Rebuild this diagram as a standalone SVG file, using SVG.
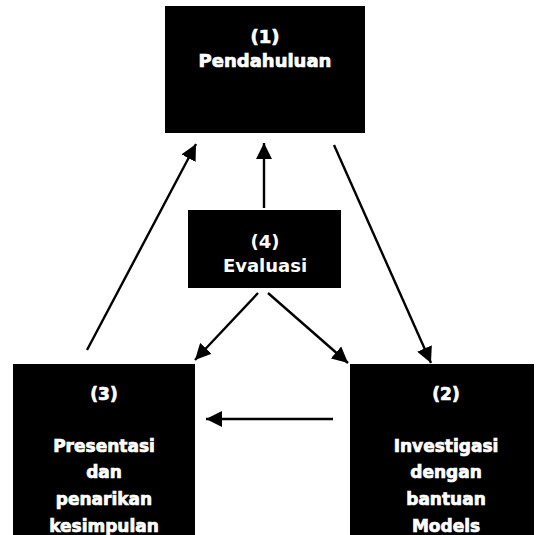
<svg xmlns="http://www.w3.org/2000/svg" width="540" height="535" viewBox="0 0 540 535">
  <defs>
    <marker id="head" markerUnits="userSpaceOnUse" markerWidth="16" markerHeight="16" refX="16" refY="8" orient="auto">
      <path d="M0,0 L16,8 L0,16 z" fill="#000"/>
    </marker>
    <style>
      .box { fill: #000; }
      .t { fill: #fff; stroke: #fff; stroke-width: 0.7; font-family: "DejaVu Sans", "Liberation Sans", sans-serif; font-weight: bold; font-size: 17px; text-anchor: middle; }
      .big { font-size: 18px; }
      .t4 { fill: #fff; font-family: "DejaVu Sans", "Liberation Sans", sans-serif; font-weight: bold; font-size: 18px; text-anchor: middle; }
      .link { stroke: #000; stroke-width: 2.4; fill: none; marker-end: url(#head); }
    </style>
  </defs>
  <rect width="540" height="535" fill="#fff"/>

  <g id="node1">
    <rect class="box" x="165" y="6" width="200" height="127"/>
    <text class="t big" x="265" y="43">(1)</text>
    <text class="t big" x="265" y="67">Pendahuluan</text>
  </g>

  <g id="node4">
    <rect class="box" x="188" y="210" width="153" height="78"/>
    <text class="t4" x="265" y="248">(4)</text>
    <text class="t4" x="265" y="272">Evaluasi</text>
  </g>

  <g id="node3">
    <rect class="box" x="13" y="364" width="182" height="171"/>
    <text class="t" x="104" y="400">(3)</text>
    <text class="t" x="104" y="452">Presentasi</text>
    <text class="t" x="104" y="478">dan</text>
    <text class="t" x="104" y="505">penarikan</text>
    <text class="t" x="104" y="532">kesimpulan</text>
  </g>

  <g id="node2">
    <rect class="box" x="350" y="364" width="184" height="171"/>
    <text class="t" x="446" y="400">(2)</text>
    <text class="t" x="446" y="452">Investigasi</text>
    <text class="t" x="446" y="478">dengan</text>
    <text class="t" x="446" y="505">bantuan</text>
    <text class="t" x="446" y="532">Models</text>
  </g>

  <g id="connectors">
    <line class="link" x1="87" y1="350" x2="196" y2="144"/>
    <line class="link" x1="264" y1="208" x2="264" y2="143"/>
    <line class="link" x1="334" y1="145" x2="431" y2="363"/>
    <line class="link" x1="258" y1="293" x2="195" y2="360"/>
    <line class="link" x1="268" y1="293" x2="348" y2="363"/>
    <line class="link" x1="333" y1="419" x2="206" y2="419"/>
  </g>
</svg>
